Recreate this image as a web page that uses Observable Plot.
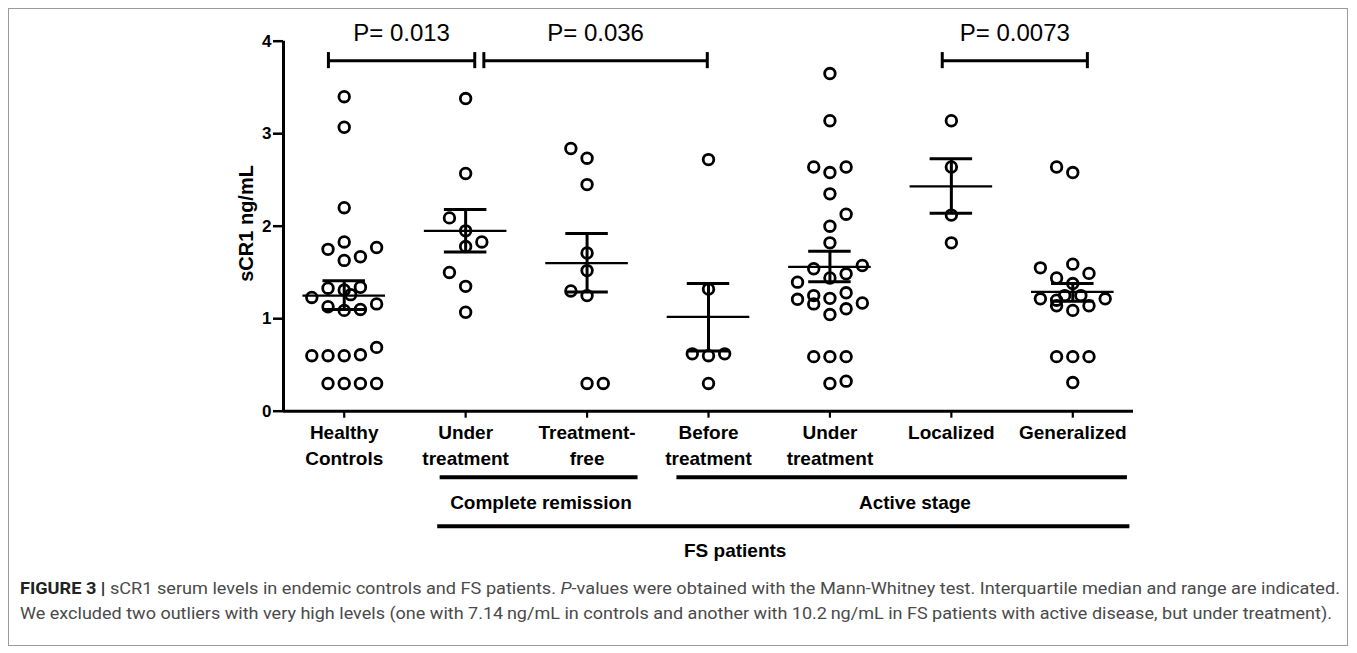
<!DOCTYPE html>
<html><head><meta charset="utf-8">
<script src="https://cdn.jsdelivr.net/npm/d3@7"></script>
<script src="https://cdn.jsdelivr.net/npm/@observablehq/plot@0.6"></script>
<style>
html,body{margin:0;padding:0;background:#fff;}
#wrap{position:relative;width:1357px;height:653px;overflow:hidden;background:#fff;}
#frame{position:absolute;left:8px;top:8px;width:1338px;height:636px;border:1px solid #9a9a9a;}
#chart{position:absolute;left:0;top:0;}
#caption{position:absolute;left:20px;top:576px;font-family:"Liberation Sans Narrow","Roboto","Liberation Sans",sans-serif;font-size:17px;line-height:25px;color:#4a4a4a;}
#caption div{white-space:nowrap;}
#caption span.ln{display:inline-block;transform-origin:0 50%;}
</style></head><body>
<div id="wrap"><div id="frame"></div><div id="chart"></div>
<div id="caption">
<div><span class="ln" id="c1"><b style="color:#222">FIGURE 3 |</b> sCR1 serum levels in endemic controls and FS patients. <i>P</i>-values were obtained with the Mann-Whitney test. Interquartile median and range are indicated.</span></div>
<div><span class="ln" id="c2">We excluded two outliers with very high levels (one with 7.14&#8201;ng/mL in controls and another with 10.2&#8201;ng/mL in FS patients with active disease, but under treatment).</span></div>
</div></div>
<script>
// ---- data ----
const categories = ["Healthy Controls","Under treatment (CR)","Treatment-free","Before treatment","Under treatment (AS)","Localized","Generalized"];
const labelLine1 = ["Healthy","Under","Treatment-","Before","Under","Localized","Generalized"];
const labelLine2 = ["Controls","treatment","free","treatment","treatment","",""];

const healthyValues = [3.40,3.07,2.20,1.83,1.75,1.77,1.63,1.67,1.33,1.31,1.34,1.26,1.23,1.13,1.09,1.10,1.16,0.60,0.60,0.60,0.61,0.69,0.30,0.30,0.30,0.30];
const healthySlots  = [0,0,0,0,-1,2,0,1,-1,0,1,0.4,-2,-1,0,1,2,-2,-1,0,1,2,-1,0,1,2];
const crUnderValues = [3.38,2.57,2.09,1.95,1.78,1.83,1.50,1.35,1.07];
const crUnderSlots  = [0,0,-1,0,0,1,-1,0,0];
const freeValues = [2.84,2.735,2.45,1.71,1.52,1.30,1.25,0.30,0.30];
const freeSlots  = [-1,0,0,0,0,-1,0,0,1];
const beforeValues = [2.72,1.32,0.62,0.60,0.62,0.30];
const beforeSlots  = [0,0,-1,0,1,0];
const asUnderValues = [3.65,3.14,2.64,2.58,2.64,2.35,2.13,2.00,1.82,1.54,1.575,1.44,1.485,1.395,1.21,1.25,1.22,1.28,1.16,1.045,1.107,1.17,0.59,0.59,0.59,0.30,0.325];
const asUnderSlots  = [0,0,-1,0,1,0,1,0,0,-1,2,0,1,-2,-2,-1,0,1,-1,0,1,2,-1,0,1,0,1];
const localizedValues = [3.14,2.64,2.12,1.82];
const localizedSlots  = [0,0,0,0];
const generalizedValues = [2.64,2.58,1.55,1.59,1.49,1.44,1.38,1.215,1.20,1.25,1.25,1.215,1.14,1.14,1.09,0.59,0.59,0.59,0.31];
const generalizedSlots  = [-1,0,-2,0,1,-1,0,-2,-1,-0.5,0.5,2,-1,1,0,-1,0,1,0];

const centerValues = [1.25,1.95,1.60,1.02,1.56,2.43,1.29];
const upperValues  = [1.41,2.18,1.92,1.38,1.73,2.73,1.38];
const lowerValues  = [1.10,1.72,1.29,0.65,1.40,2.14,1.19];

const pLabels = ["P= 0.013","P= 0.036","P= 0.0073"];
const pFrom = [-0.13,1.15,4.925];
const pTo   = [1.075,2.99,6.12];
const pLevel = 3.79;

const groupNames = ["Complete remission","Active stage","FS patients"];
const groupFrom = [0.79,2.74,0.77];
const groupTo   = [2.42,6.45,6.47];
const groupLabelAt = [1.62,4.70,3.22];
const groupTier = [0,0,1];

const yTicks = [0,1,2,3,4];

// ---- build tables ----
const valueSets = [healthyValues,crUnderValues,freeValues,beforeValues,asUnderValues,localizedValues,generalizedValues];
const slotSets  = [healthySlots,crUnderSlots,freeSlots,beforeSlots,asUnderSlots,localizedSlots,generalizedSlots];
const SLOT = 0.1334;
const points = valueSets.flatMap((vals,g)=>vals.map((v,i)=>({g, v, x: g + slotSets[g][i]*SLOT})));
const stats = categories.map((c,i)=>({i, c, m: centerValues[i], hi: upperValues[i], lo: lowerValues[i], l1: labelLine1[i], l2: labelLine2[i]}));
const comps = pLabels.map((t,i)=>({t, x1: pFrom[i], x2: pTo[i], mid: (pFrom[i]+pTo[i])/2}));
const groups = groupNames.map((n,i)=>({n, x1: groupFrom[i], x2: groupTo[i], at: groupLabelAt[i], tier: groupTier[i]}));
const tier0 = groups.filter(d => d.tier === 0);
const tier1 = groups.filter(d => d.tier === 1);
const idx = d3.range(categories.length);

const MEAN_HALF = 0.34, CAP_HALF = 0.175, BR = 0.087;
const font = "'Liberation Sans', Arial, Helvetica, sans-serif";

const chart = Plot.plot({
  width: 1357, height: 565,
  marginLeft: 283, marginRight: 224, marginTop: 40.7, marginBottom: 154.3,
  style: {fontFamily: font, background: "transparent", overflow: "visible", color: "#000"},
  x: {domain: [-0.5, 6.5], axis: null},
  y: {domain: [0, 4], axis: null},
  marks: [
    Plot.axisY({ticks: yTicks, tickSize: 10, tickPadding: 2, strokeWidth: 2.5, fontSize: 17, fontWeight: "bold", label: null, tickFormat: d3.format("d")}),
    Plot.axisX({ticks: idx, tickSize: 7, strokeWidth: 2.2, tickFormat: () => "", label: null}),
    Plot.ruleX([-0.5], {strokeWidth: 3}),
    Plot.ruleY([0], {strokeWidth: 3}),
    // y label
    Plot.text(["sCR1 ng/mL"], {x: -0.5, y: 2.03, dx: -37, rotate: -90, text: d => d, fontSize: 20, fontWeight: "bold"}),
    // points
    Plot.dot(points, {x: "x", y: "v", r: 5.3, stroke: "#000", strokeWidth: 2.8, fill: "none"}),
    // error bars
    Plot.ruleX(stats, {x: "i", y1: "lo", y2: "hi", strokeWidth: 3}),
    Plot.ruleY(stats, {y: "hi", x1: d => d.i - CAP_HALF, x2: d => d.i + CAP_HALF, strokeWidth: 3}),
    Plot.ruleY(stats, {y: "lo", x1: d => d.i - CAP_HALF, x2: d => d.i + CAP_HALF, strokeWidth: 3}),
    Plot.ruleY(stats, {y: "m", x1: d => d.i - MEAN_HALF, x2: d => d.i + MEAN_HALF, strokeWidth: 2.2}),
    // comparison brackets
    Plot.ruleY(comps, {y: pLevel, x1: "x1", x2: "x2", strokeWidth: 3}),
    Plot.ruleX(comps, {x: "x1", y1: pLevel - BR, y2: pLevel + BR, strokeWidth: 3}),
    Plot.ruleX(comps, {x: "x2", y1: pLevel - BR, y2: pLevel + BR, strokeWidth: 3}),
    Plot.text(comps, {x: "mid", y: pLevel, dy: -27, text: "t", fontSize: 24, fontWeight: "normal"}),
    // category labels
    Plot.text(stats, {x: "i", y: 0, dy: 22, text: "l1", fontSize: 19, fontWeight: "bold"}),
    Plot.text(stats, {x: "i", y: 0, dy: 48, text: "l2", fontSize: 19, fontWeight: "bold"}),
    // group lines and labels
    Plot.ruleY(tier0, {y: 0, dy: 66, x1: "x1", x2: "x2", strokeWidth: 4}),
    Plot.ruleY(tier1, {y: 0, dy: 115, x1: "x1", x2: "x2", strokeWidth: 4}),
    Plot.text(tier0, {x: "at", y: 0, dy: 92, text: "n", fontSize: 19, fontWeight: "bold"}),
    Plot.text(tier1, {x: "at", y: 0, dy: 140, text: "n", fontSize: 19, fontWeight: "bold"})
  ]
});
document.getElementById("chart").appendChild(chart);

// fit caption lines to the reference widths
function fit(id, target){
  const el = document.getElementById(id);
  const w = el.getBoundingClientRect().width;
  if (w > 0) el.style.transform = `scaleX(${target / w})`;
}
fit("c1", 1320);
fit("c2", 1312);
</script>
</body></html>
